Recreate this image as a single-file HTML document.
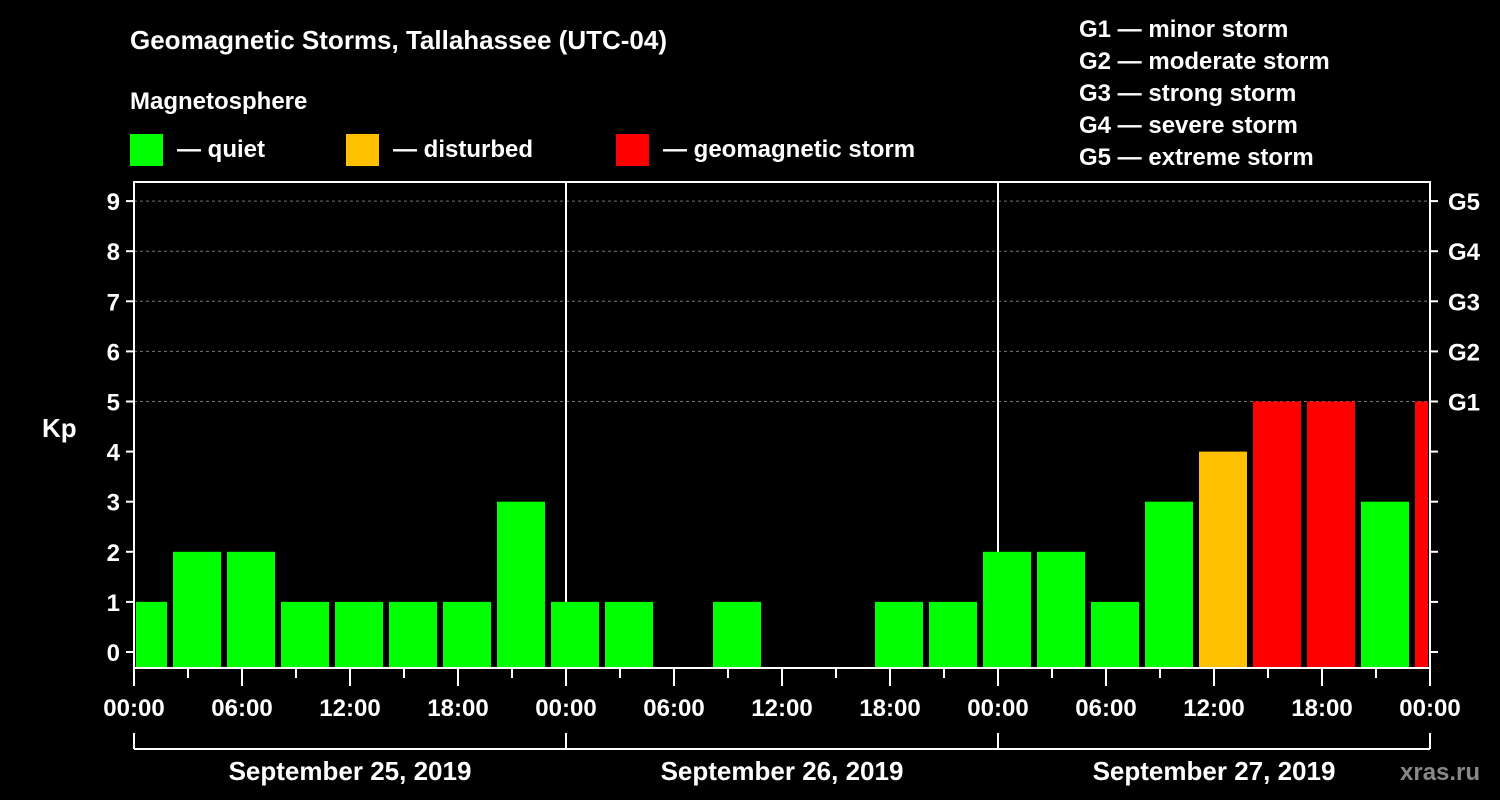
<!DOCTYPE html>
<html><head><meta charset="utf-8"><style>
body{margin:0;background:#000;}
svg{display:block;font-family:"Liberation Sans",Arial,sans-serif;font-weight:bold;}
</style></head><body>
<svg width="1500" height="800" viewBox="0 0 1500 800">
<rect x="0" y="0" width="1500" height="800" fill="#000"/>
<text x="130" y="49" fill="#fff" font-size="26">Geomagnetic Storms, Tallahassee (UTC-04)</text>
<text x="130" y="109" fill="#fff" font-size="24">Magnetosphere</text>
<g><rect x="130" y="134" width="33" height="32" fill="#00ff00"/><text x="177" y="157" fill="#fff" font-size="24">— quiet</text></g>
<g><rect x="346" y="134" width="33" height="32" fill="#ffc000"/><text x="393" y="157" fill="#fff" font-size="24">— disturbed</text></g>
<g><rect x="616" y="134" width="33" height="32" fill="#ff0000"/><text x="663" y="157" fill="#fff" font-size="24">— geomagnetic storm</text></g>
<g fill="#fff" font-size="24">
<text x="1079" y="37">G1 — minor storm</text>
<text x="1079" y="69">G2 — moderate storm</text>
<text x="1079" y="101">G3 — strong storm</text>
<text x="1079" y="133">G4 — severe storm</text>
<text x="1079" y="165">G5 — extreme storm</text>
</g>
<text x="42" y="437" fill="#fff" font-size="26">Kp</text>
<text x="1400" y="780" fill="#888" font-size="24">xras.ru</text>
<g id="grid"></g>
<g id="bars"></g>
<g id="axes"></g>
</svg>
<script>
const kpValues=[1,2,2,1,1,1,1,3,1,1,0,1,0,0,1,1,2,2,1,3,4,5,5,3,5];
const binStartHour=-1;
const yTicks=[0,1,2,3,4,5,6,7,8,9];
const gLabels=["G1","G2","G3","G4","G5"];
const xTickLabels=["00:00","06:00","12:00","18:00","00:00","06:00","12:00","18:00","00:00","06:00","12:00","18:00","00:00"];
const dayLabels=["September 25, 2019","September 26, 2019","September 27, 2019"];
const NS="http://www.w3.org/2000/svg";
const X0=134,X1=1430,TOP=182,BOT=668;
const xH=h=>X0+h*(X1-X0)/72;
const yK=k=>652-k*50.1;
function mk(t,a,p){const e=document.createElementNS(NS,t);for(const k in a)e.setAttribute(k,a[k]);p.appendChild(e);return e;}
const grid=document.getElementById('grid'),bars=document.getElementById('bars'),axes=document.getElementById('axes');
for(let k=5;k<=9;k++){
 const l=mk('line',{x1:X0,x2:X1,y1:yK(k),y2:yK(k),stroke:'#777','stroke-dasharray':'3,3'},grid);
 
 
}
[24,48].forEach(h=>{const l=mk('line',{x1:xH(h),x2:xH(h),y1:TOP,y2:BOT,stroke:'#fff','stroke-width':2},grid);
 
 });
kpValues.forEach((v,i)=>{
 if(v<=0)return;
 let a=xH(binStartHour+i*3)+3,b=xH(binStartHour+i*3+3)-3;
 a=Math.max(a,X0+2);b=Math.min(b,X1-2);
 const c=v>=5?'#ff0000':(v>=4?'#ffc000':'#00ff00');
 const r=mk('rect',{x:a,y:yK(v),width:b-a,height:BOT-yK(v),fill:c},bars);
 
 
});
const frame=mk('rect',{x:X0,y:TOP,width:X1-X0,height:BOT-TOP,fill:'none',stroke:'#fff','stroke-width':2},axes);


yTicks.forEach(k=>{
 mk('line',{x1:X0-8,x2:X0,y1:yK(k),y2:yK(k),stroke:'#fff','stroke-width':2},axes);
 mk('line',{x1:X1,x2:X1+8,y1:yK(k),y2:yK(k),stroke:'#fff','stroke-width':2},axes);
 const t=mk('text',{x:X0-14,y:yK(k)+9,fill:'#fff','font-size':24,'text-anchor':'end'},axes);
 t.textContent=k;
 
 
});
gLabels.forEach((g,i)=>{
 const t=mk('text',{x:X1+18,y:yK(5+i)+9,fill:'#fff','font-size':24},axes);
 t.textContent=g;
 
 
});
for(let h=0;h<=72;h+=3){
 const maj=h%6===0;
 mk('line',{x1:xH(h),x2:xH(h),y1:BOT,y2:BOT+(maj?18:10),stroke:'#fff','stroke-width':2},axes);
}
xTickLabels.forEach((s,i)=>{
 const t=mk('text',{x:xH(i*6),y:716,fill:'#fff','font-size':24,'text-anchor':'middle'},axes);
 t.textContent=s;
 
 
});
mk('line',{x1:X0,x2:X1,y1:749,y2:749,stroke:'#fff','stroke-width':2},axes);
[0,24,48,72].forEach(h=>mk('line',{x1:xH(h),x2:xH(h),y1:733,y2:749,stroke:'#fff','stroke-width':2},axes));
dayLabels.forEach((s,i)=>{
 const t=mk('text',{x:xH(i*24+12),y:780,fill:'#fff','font-size':26,'text-anchor':'middle'},axes);
 t.textContent=s;
 
 
});
</script>
</body></html>
